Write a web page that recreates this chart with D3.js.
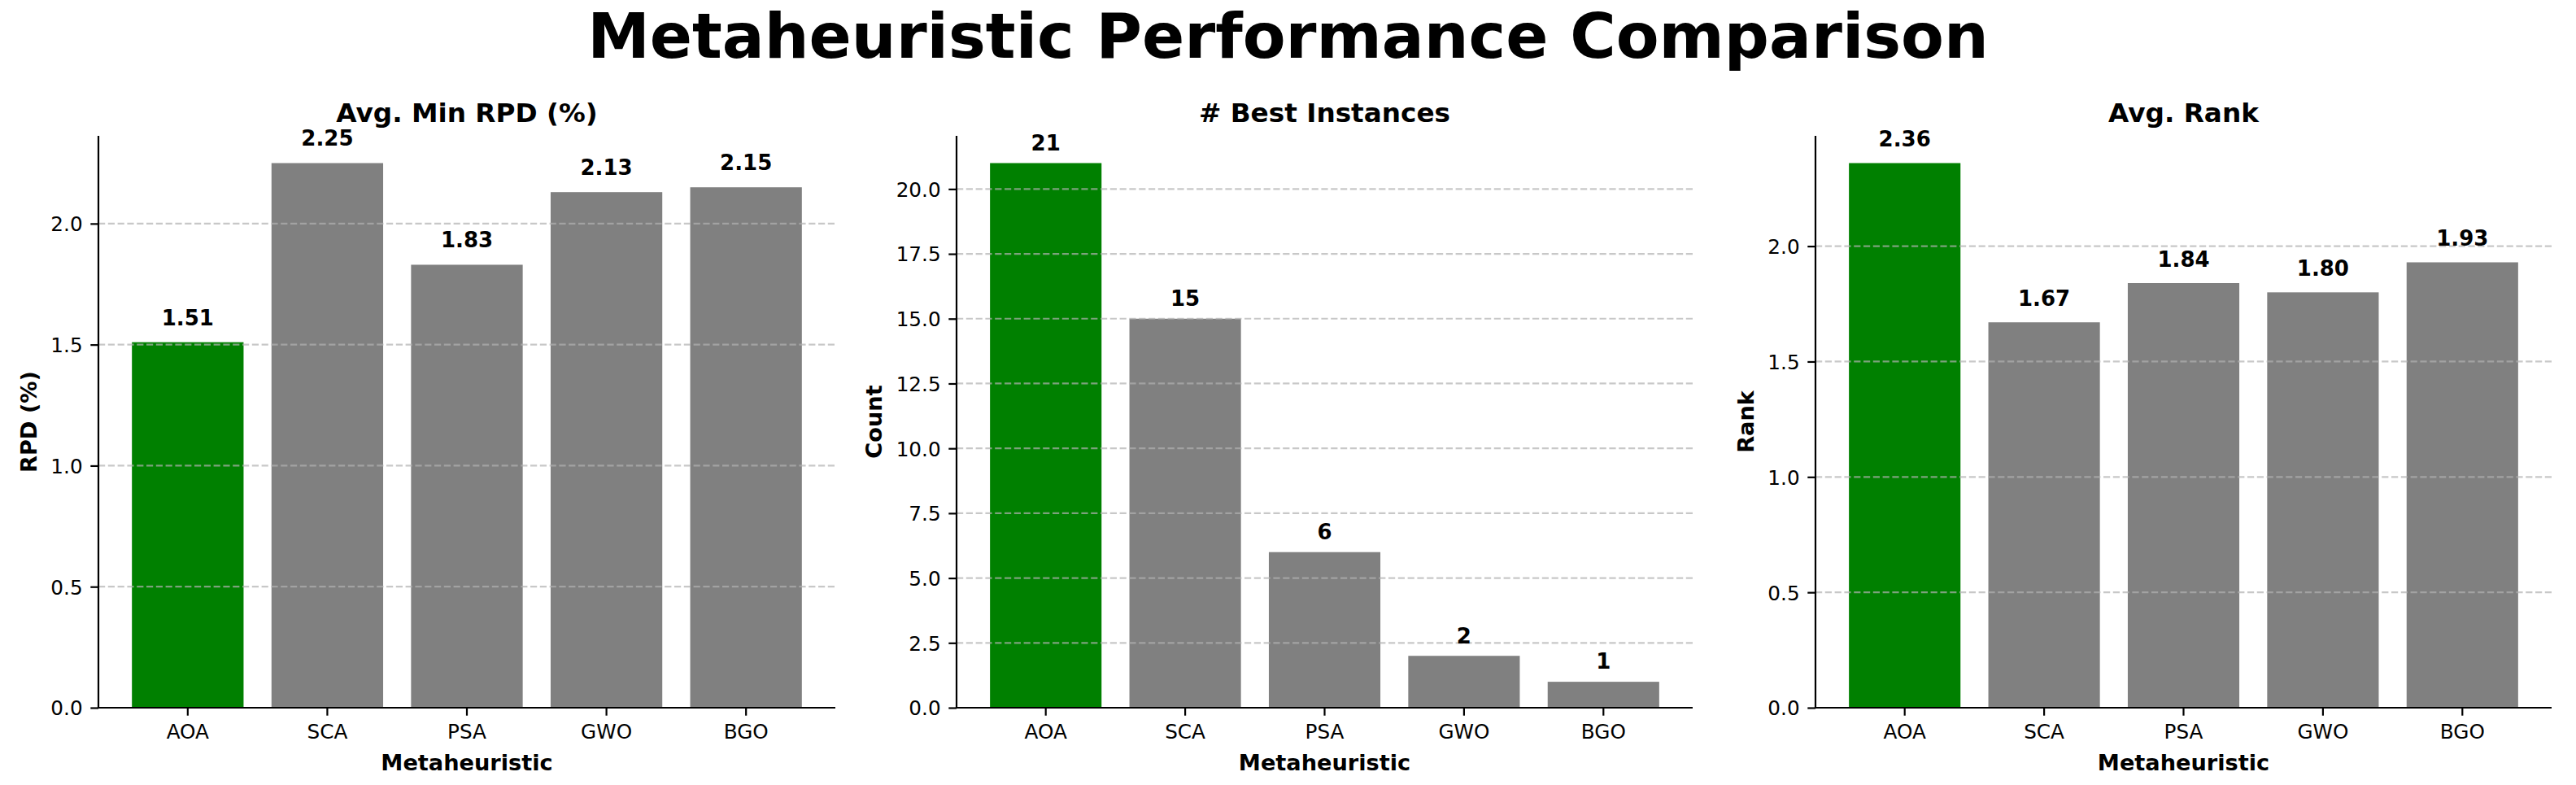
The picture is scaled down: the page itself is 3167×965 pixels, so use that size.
<!DOCTYPE html>
<html>
<head>
<meta charset="utf-8">
<script src="https://cdn.jsdelivr.net/npm/d3@7"></script>
<style>
  body { margin: 0; background: #fff; }
  svg { display: block; font-family: "DejaVu Sans", sans-serif; }
</style>
</head>
<body>
<div id="chart"></div>
<script>
"use strict";

// chart data
const algorithms = ["AOA", "SCA", "PSA", "GWO", "BGO"];
const avgMinRPD = [1.51, 2.25, 1.83, 2.13, 2.15];
const bestInstances = [21, 15, 6, 2, 1];
const avgRank = [2.36, 1.67, 1.84, 1.80, 1.93];

const rpdTicks = [0, 0.5, 1.0, 1.5, 2.0];
const countTicks = [0, 2.5, 5.0, 7.5, 10.0, 12.5, 15.0, 17.5, 20.0];
const rankTicks = [0, 0.5, 1.0, 1.5, 2.0];

const WIDTH = 3167;
const HEIGHT = 965;
const TOP = 167;
const BOTTOM = 870;

const svg = d3.select("#chart")
  .append("svg")
  .attr("width", WIDTH)
  .attr("height", HEIGHT);

svg.append("rect")
  .attr("width", WIDTH)
  .attr("height", HEIGHT)
  .attr("fill", "#fff");

svg.append("text")
  .attr("x", WIDTH / 2)
  .attr("y", 71)
  .attr("text-anchor", "middle")
  .attr("font-size", 77)
  .attr("font-weight", "bold")
  .text("Metaheuristic Performance Comparison");

/* one bar panel; left/right are the axis edges in px,
   labelOffset is the gap above a bar, in data units */
function drawPanel(opts) {
  const g = svg.append("g");

  const x = d3.scaleBand()
    .domain(algorithms)
    .range([opts.left, opts.right])
    .paddingInner(0.2)
    .paddingOuter(0.24);

  const y = d3.scaleLinear()
    .domain([0, d3.max(opts.values) * 1.05])
    .range([BOTTOM, TOP]);

  // bars
  g.selectAll(".bar")
    .data(opts.values)
    .enter()
    .append("rect")
    .attr("class", "bar")
    .attr("x", (d, i) => x(algorithms[i]))
    .attr("width", x.bandwidth())
    .attr("y", d => y(d))
    .attr("height", d => BOTTOM - y(d))
    .attr("fill", (d, i) => i === 0 ? "#008000" : "#808080");

  // dashed grid sits on top of the bars
  g.selectAll(".grid")
    .data(opts.ticks)
    .enter()
    .append("line")
    .attr("class", "grid")
    .attr("x1", opts.left)
    .attr("x2", opts.right)
    .attr("y1", d => y(d))
    .attr("y2", d => y(d))
    .attr("stroke", "#b0b0b0")
    .attr("stroke-opacity", 0.7)
    .attr("stroke-width", 2.2)
    .attr("stroke-dasharray", "8.2,3.6");

  // y axis
  const yAxis = d3.axisLeft(y)
    .tickValues(opts.ticks)
    .tickFormat(d3.format(".1f"))
    .tickSize(9.7)
    .tickPadding(9.7);

  const ya = g.append("g")
    .attr("transform", `translate(${opts.left},0)`)
    .call(yAxis);
  ya.select(".domain").remove();
  ya.selectAll(".tick line").attr("stroke", "#000").attr("stroke-width", 2.2);
  ya.selectAll(".tick text")
    .attr("font-size", 24.7)
    .attr("font-family", "DejaVu Sans")
    .attr("fill", "#000")
    .attr("dy", "0.36em");

  // x axis
  const xAxis = d3.axisBottom(x)
    .tickSize(9.7)
    .tickPadding(9.7);
  const xa = g.append("g")
    .attr("transform", `translate(0,${BOTTOM})`)
    .call(xAxis);
  xa.select(".domain").remove();
  xa.selectAll(".tick line").attr("stroke", "#000").attr("stroke-width", 2.2);
  xa.selectAll(".tick text")
    .attr("font-size", 24.7)
    .attr("font-family", "DejaVu Sans")
    .attr("fill", "#000")
    .attr("y", 38)
    .attr("dy", 0);

  // spines (left + bottom only)
  g.append("line")
    .attr("x1", opts.left).attr("x2", opts.left)
    .attr("y1", TOP).attr("y2", BOTTOM)
    .attr("stroke", "#000").attr("stroke-width", 2.2);
  g.append("line")
    .attr("x1", opts.left - 1.1).attr("x2", opts.right)
    .attr("y1", BOTTOM).attr("y2", BOTTOM)
    .attr("stroke", "#000").attr("stroke-width", 2.2);

  // value labels
  g.selectAll(".val")
    .data(opts.values)
    .enter()
    .append("text")
    .attr("class", "val")
    .attr("x", (d, i) => x(algorithms[i]) + x.bandwidth() / 2)
    .attr("y", d => y(d + opts.labelOffset) - 6.1)
    .attr("text-anchor", "middle")
    .attr("font-size", 26)
    .attr("font-weight", "bold")
    .text(d => opts.format(d));

  // title
  g.append("text")
    .attr("x", (opts.left + opts.right) / 2)
    .attr("y", TOP - 16.7)
    .attr("text-anchor", "middle")
    .attr("font-size", 32.7)
    .attr("font-weight", "bold")
    .text(opts.title);

  // x label
  g.append("text")
    .attr("x", (opts.left + opts.right) / 2)
    .attr("y", 947)
    .attr("text-anchor", "middle")
    .attr("font-size", 27.2)
    .attr("font-weight", "bold")
    .text("Metaheuristic");

  // y label, placed left of the widest tick label
  let widest = 0;
  ya.selectAll(".tick text").each(function () {
    widest = Math.max(widest, this.getComputedTextLength());
  });
  const yl = opts.left - 19.4 - widest - 11.1 - 6.4;
  g.append("text")
    .attr("transform", `translate(${yl},${(TOP + BOTTOM) / 2}) rotate(-90)`)
    .attr("text-anchor", "middle")
    .attr("font-size", 27.2)
    .attr("font-weight", "bold")
    .text(opts.ylabel);
}

drawPanel({
  left: 121, right: 1027,
  values: avgMinRPD, ticks: rpdTicks,
  title: "Avg. Min RPD (%)", ylabel: "RPD (%)",
  labelOffset: 0.05, format: d3.format(".2f")
});

drawPanel({
  left: 1176, right: 2081,
  values: bestInstances, ticks: countTicks,
  title: "# Best Instances", ylabel: "Count",
  labelOffset: 0.3, format: d3.format("d")
});

drawPanel({
  left: 2232, right: 3137,
  values: avgRank, ticks: rankTicks,
  title: "Avg. Rank", ylabel: "Rank",
  labelOffset: 0.05, format: d3.format(".2f")
});
</script>
</body>
</html>
